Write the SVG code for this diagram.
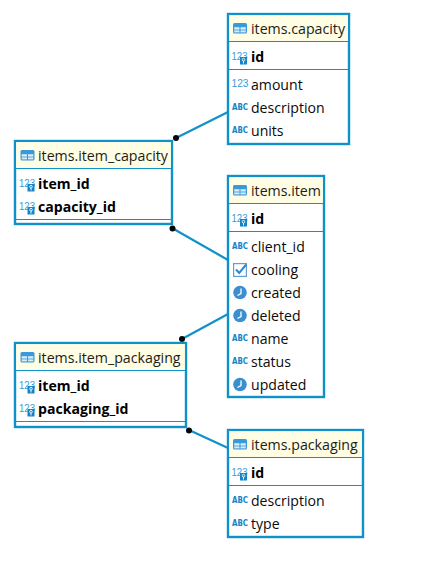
<svg xmlns="http://www.w3.org/2000/svg" xmlns:xlink="http://www.w3.org/1999/xlink" width="435" height="567" viewBox="0 0 435 567">
<style>
text{font-family:"Open Sans","Noto Sans","Liberation Sans",sans-serif;font-size:14.1px;fill:#0a0a0a}
.t{font-size:14.2px;fill:#1c1c1c}
.b{font-weight:700;fill:#000}
.box{fill:#fff;stroke:#0f91c9;stroke-width:2.4}
.head{fill:#fffde3}
.sep{stroke:#0f91c9;stroke-width:1.2;fill:none}
.link{stroke:#0f91c9;stroke-width:2.2;fill:none}
.dot{fill:#050505}
text.abc{font-family:"DejaVu Sans",sans-serif;font-size:8.5px;font-weight:700;fill:#1583c8}
text.num{font-family:"Liberation Sans",sans-serif;font-size:11.5px;fill:#3a9ad9}
</style>
<defs>
<g id="tbl"><rect x="0" y="0" width="14" height="10.500" rx="1.500" fill="#3a9ad9"/><rect x="1.200" y="4.200" width="5.300" height="2.400" fill="#d8ecf8"/><rect x="7.500" y="4.200" width="5.300" height="2.400" fill="#d8ecf8"/><rect x="1.200" y="7.400" width="5.300" height="2" fill="#d8ecf8"/><rect x="7.500" y="7.400" width="5.300" height="2" fill="#d8ecf8"/></g>
<g id="key"><rect x="0" y="0" width="7" height="7.500" fill="#1583c8"/><circle cx="3.500" cy="2.700" r="1.300" fill="none" stroke="#fff" stroke-width=".9"/><path d="M3.500 4V6.500" stroke="#fff" stroke-width=".9"/></g>
<g id="clk"><circle cx="7" cy="7" r="6.800" fill="#3a8fd0"/><path d="M8 3v5L4.500 10" fill="none" stroke="#fff" stroke-width="1.300"/></g>
<g id="chk"><rect x=".6" y=".6" width="12.800" height="12.800" fill="#fff" stroke="#5f9fd6" stroke-width="1.200"/><path d="M3 6.500l3.200 3.500 7-8.500" fill="none" stroke="#2f88cf" stroke-width="2"/></g>
</defs>
<g id="connectors">
<path class="link" d="M176 138L228 112"/>
<path class="link" d="M172 228L228 260"/>
<path class="link" d="M182 339L228 314"/>
<path class="link" d="M189 430L228 448"/>
<circle class="dot" cx="176" cy="138" r="3"/>
<circle class="dot" cx="172.500" cy="228.500" r="3"/>
<circle class="dot" cx="182" cy="339" r="3"/>
<circle class="dot" cx="189" cy="430.500" r="3"/>
</g>
<g id="items.capacity">
<rect class="box" x="228" y="14" width="121" height="130"/>
<rect class="head" x="229.200" y="15.200" width="118.600" height="26"/>
<path class="sep" d="M228 41.500H349M228 69.500H349"/>
<use xlink:href="#tbl" href="#tbl" x="233" y="23"/>
<text class="t" x="251" y="34">items.capacity</text>
<text class="num" x="231.500" y="60" textLength="16" lengthAdjust="spacingAndGlyphs">123</text><use xlink:href="#key" href="#key" x="240" y="57"/>
<text class="b" x="251" y="62">id</text>
<text class="num" x="231.500" y="87" textLength="17" lengthAdjust="spacingAndGlyphs">123</text><text x="251" y="90">amount</text>
<text class="abc" x="232" y="110" textLength="16" lengthAdjust="spacingAndGlyphs">ABC</text><text x="251" y="113">description</text>
<text class="abc" x="232" y="133" textLength="16" lengthAdjust="spacingAndGlyphs">ABC</text><text x="251" y="136">units</text>
</g>
<g id="items.item_capacity">
<rect class="box" x="15" y="141" width="157" height="83"/>
<rect class="head" x="16.200" y="142.200" width="154.600" height="26"/>
<path class="sep" d="M15 168.500H172M15 219.500H172"/>
<use xlink:href="#tbl" href="#tbl" x="20.500" y="150"/>
<text class="t" x="38" y="161">items.item_capacity</text>
<text class="num" x="19" y="187" textLength="16" lengthAdjust="spacingAndGlyphs">123</text><use xlink:href="#key" href="#key" x="27.500" y="184"/>
<text class="b" x="38" y="189">item_id</text>
<text class="num" x="19" y="210" textLength="16" lengthAdjust="spacingAndGlyphs">123</text><use xlink:href="#key" href="#key" x="27.500" y="207"/>
<text class="b" x="38" y="212">capacity_id</text>
</g>
<g id="items.item">
<rect class="box" x="228" y="176" width="96" height="221"/>
<rect class="head" x="229.200" y="177.200" width="93.600" height="26"/>
<path class="sep" d="M228 203.500H324M228 231.500H324"/>
<use xlink:href="#tbl" href="#tbl" x="233" y="185"/>
<text class="t" x="251" y="196">items.item</text>
<text class="num" x="231.500" y="222" textLength="16" lengthAdjust="spacingAndGlyphs">123</text><use xlink:href="#key" href="#key" x="240" y="219"/>
<text class="b" x="251" y="224">id</text>
<text class="abc" x="232" y="249" textLength="16" lengthAdjust="spacingAndGlyphs">ABC</text><text x="251" y="252">client_id</text>
<use xlink:href="#chk" href="#chk" x="233" y="263"/><text x="251" y="275">cooling</text>
<use xlink:href="#clk" href="#clk" x="233" y="285.500"/><text x="251" y="298">created</text>
<use xlink:href="#clk" href="#clk" x="233" y="308.500"/><text x="251" y="321">deleted</text>
<text class="abc" x="232" y="341" textLength="16" lengthAdjust="spacingAndGlyphs">ABC</text><text x="251" y="344">name</text>
<text class="abc" x="232" y="364" textLength="16" lengthAdjust="spacingAndGlyphs">ABC</text><text x="251" y="367">status</text>
<use xlink:href="#clk" href="#clk" x="233" y="377.500"/><text x="251" y="390">updated</text>
</g>
<g id="items.item_packaging">
<rect class="box" x="15" y="343" width="171" height="84"/>
<rect class="head" x="16.200" y="344.200" width="168.600" height="26"/>
<path class="sep" d="M15 370.500H186M15 421.500H186"/>
<use xlink:href="#tbl" href="#tbl" x="20.500" y="352"/>
<text class="t" x="38" y="363">items.item_packaging</text>
<text class="num" x="19" y="389" textLength="16" lengthAdjust="spacingAndGlyphs">123</text><use xlink:href="#key" href="#key" x="27.500" y="386"/>
<text class="b" x="38" y="391">item_id</text>
<text class="num" x="19" y="412" textLength="16" lengthAdjust="spacingAndGlyphs">123</text><use xlink:href="#key" href="#key" x="27.500" y="409"/>
<text class="b" x="38" y="414">packaging_id</text>
</g>
<g id="items.packaging">
<rect class="box" x="228" y="430" width="135" height="107"/>
<rect class="head" x="229.200" y="431.200" width="132.600" height="26"/>
<path class="sep" d="M228 457.500H363M228 485.500H363"/>
<use xlink:href="#tbl" href="#tbl" x="233" y="439"/>
<text class="t" x="251" y="450">items.packaging</text>
<text class="num" x="231.500" y="476" textLength="16" lengthAdjust="spacingAndGlyphs">123</text><use xlink:href="#key" href="#key" x="240" y="473"/>
<text class="b" x="251" y="478">id</text>
<text class="abc" x="232" y="503" textLength="16" lengthAdjust="spacingAndGlyphs">ABC</text><text x="251" y="506">description</text>
<text class="abc" x="232" y="526" textLength="16" lengthAdjust="spacingAndGlyphs">ABC</text><text x="251" y="529">type</text>
</g>
</svg>
